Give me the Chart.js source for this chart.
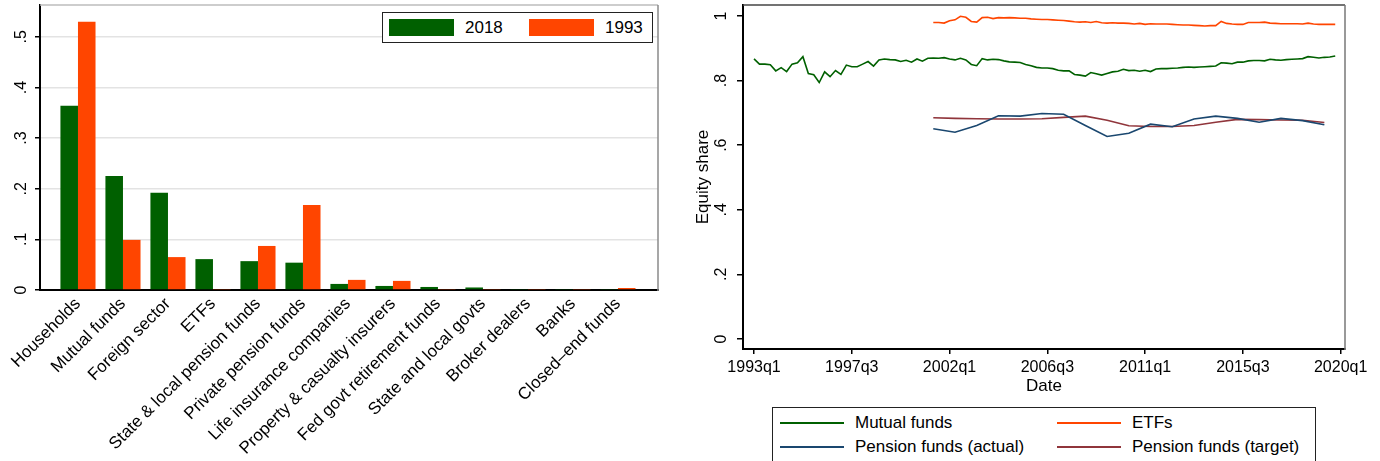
<!DOCTYPE html>
<html>
<head>
<meta charset="utf-8">
<script src="https://cdn.jsdelivr.net/npm/chart.js@4.4.1/dist/chart.umd.min.js"></script>
<style>
  html, body { margin: 0; padding: 0; background: #fff; }
  body { position: relative; width: 1380px; height: 461px; overflow: hidden; font-family: "Liberation Sans", Arial, sans-serif; }
  #left { position: absolute; left: 0; top: 0; }
  #right { position: absolute; left: 680px; top: 0; }
  .legend { position: absolute; border: 1.5px solid #222; background: #fff; box-sizing: border-box; }
  .legend span { position: absolute; font-size: 17px; color: #000; line-height: 20px; white-space: nowrap; }
  .legend i { position: absolute; display: block; }
</style>
</head>
<body>
<canvas id="left" width="680" height="461"></canvas>
<canvas id="right" width="700" height="461"></canvas>
<div class="legend" id="legLeft" style="left:382px;top:12px;width:271px;height:31px"></div>
<div class="legend" id="legRight" style="left:772px;top:407px;width:544px;height:70px"></div>
<script>
'use strict'

// left panel: share of equity held by sector
const sectors = ['Households', 'Mutual funds', 'Foreign sector', 'ETFs', 'State & local pension funds',
    'Private pension funds', 'Life insurance companies', 'Property & casualty insurers',
    'Fed govt retirement funds', 'State and local govts', 'Broker dealers', 'Banks', 'Closed\u2013end funds']
const share2018 = [0.364, 0.225, 0.192, 0.061, 0.057, 0.054, 0.012, 0.008, 0.006, 0.005, 0.002, 0.002, 0.002]
const share1993 = [0.530, 0.099, 0.065, 0.001, 0.087, 0.168, 0.020, 0.018, 0.001, 0.001, 0.001, 0.001, 0.004]
const shareTicks = [0, 0.1, 0.2, 0.3, 0.4, 0.5]
const shareTickLabels = ['0', '.1', '.2', '.3', '.4', '.5']

// right panel: equity share over time (x = quarters since 1993q1)
const dateTicks = [0, 18, 36, 54, 72, 90, 108]
const dateTickLabels = ['1993q1', '1997q3', '2002q1', '2006q3', '2011q1', '2015q3', '2020q1']
const equityTicks = [0, 0.2, 0.4, 0.6, 0.8, 1]
const equityTickLabels = ['0', '.2', '.4', '.6', '.8', '1']

const mutualStart = 0
const mutualFunds = [
    0.867, 0.851, 0.851, 0.849, 0.830, 0.840, 0.828, 0.851, 0.855, 0.874,
    0.822, 0.818, 0.794, 0.827, 0.812, 0.831, 0.819, 0.848, 0.843, 0.843,
    0.851, 0.859, 0.845, 0.864, 0.867, 0.865, 0.864, 0.859, 0.863, 0.857,
    0.867, 0.860, 0.869, 0.870, 0.869, 0.871, 0.867, 0.864, 0.869, 0.864,
    0.850, 0.846, 0.868, 0.864, 0.866, 0.865, 0.861, 0.858, 0.857, 0.856,
    0.850, 0.846, 0.841, 0.839, 0.839, 0.837, 0.832, 0.830, 0.830, 0.819,
    0.817, 0.814, 0.825, 0.821, 0.817, 0.822, 0.827, 0.829, 0.835, 0.831,
    0.832, 0.829, 0.832, 0.828, 0.836, 0.837, 0.837, 0.838, 0.839, 0.841,
    0.842, 0.841, 0.842, 0.843, 0.844, 0.845, 0.855, 0.854, 0.852, 0.857,
    0.857, 0.861, 0.862, 0.862, 0.861, 0.866, 0.864, 0.863, 0.865, 0.866,
    0.867, 0.868, 0.874, 0.872, 0.870, 0.872, 0.873, 0.876
]
const etfStart = 33
const etfs = [
    0.980, 0.980, 0.978, 0.985, 0.988, 0.999, 0.996, 0.983, 0.981, 0.995,
    0.996, 0.992, 0.995, 0.994, 0.995, 0.994, 0.993, 0.993, 0.991, 0.990,
    0.989, 0.989, 0.988, 0.987, 0.986, 0.984, 0.982, 0.981, 0.982, 0.980,
    0.983, 0.979, 0.978, 0.979, 0.978, 0.978, 0.977, 0.975, 0.977, 0.974,
    0.976, 0.975, 0.975, 0.975, 0.974, 0.973, 0.972, 0.972, 0.971, 0.970,
    0.969, 0.970, 0.970, 0.983, 0.977, 0.975, 0.974, 0.974, 0.980, 0.980,
    0.980, 0.981, 0.978, 0.977, 0.976, 0.976, 0.976, 0.976, 0.975, 0.978,
    0.975, 0.974, 0.974, 0.974, 0.974
]
// pension funds are yearly, 2001 to 2019
const pensionStart = 33
const pensionActual = [0.651, 0.640, 0.661, 0.691, 0.690, 0.698, 0.696, 0.661, 0.627, 0.637,
    0.665, 0.657, 0.681, 0.690, 0.683, 0.671, 0.683, 0.676, 0.663]
const pensionTarget = [0.685, 0.683, 0.682, 0.681, 0.681, 0.682, 0.686, 0.690, 0.677, 0.660,
    0.658, 0.658, 0.661, 0.671, 0.680, 0.679, 0.678, 0.677, 0.670]

const GREEN = '#006000'
const ORANGE = '#ff4500'
const NAVY = '#1a476f'
const MAROON = '#90353b'
const FONT = '"Liberation Sans", Arial, sans-serif'

Chart.defaults.font.family = FONT
Chart.defaults.color = '#000'

// light frame on top and right of the plot region
const framePlugin = {
    id: 'frame',
    afterDraw(chart, args, opts) {
        const ctx = chart.ctx
        const a = chart.chartArea
        ctx.save()
        ctx.lineWidth = 1.5
        ctx.strokeStyle = opts.top
        ctx.beginPath(); ctx.moveTo(a.left, a.top); ctx.lineTo(a.right, a.top); ctx.stroke()
        ctx.strokeStyle = opts.right
        ctx.beginPath(); ctx.moveTo(a.right, a.top); ctx.lineTo(a.right, a.bottom + 1); ctx.stroke()
        ctx.restore()
    }
}

// y tick labels turned 90 degrees, like stata does
const sideLabelsPlugin = {
    id: 'sideLabels',
    afterDraw(chart, args, opts) {
        const scale = chart.scales.y
        const ctx = chart.ctx
        ctx.save()
        ctx.font = '16px ' + FONT
        ctx.fillStyle = '#000'
        ctx.textAlign = 'center'
        ctx.textBaseline = 'middle'
        scale.ticks.forEach((t, i) => {
            ctx.save()
            ctx.translate(opts.x, scale.getPixelForValue(t.value))
            ctx.rotate(-Math.PI / 2)
            ctx.fillText(opts.labels[i], 0, 0)
            ctx.restore()
        })
        ctx.restore()
    }
}

function points(values, start, step) {
    return values.map((v, i) => ({ x: start + i * step, y: v }))
}

let leftChart = new Chart(document.querySelector('#left'), {
    type: 'bar',
    data: {
        datasets: [
            { label: '2018', data: points(share2018, 0, 1), backgroundColor: GREEN },
            { label: '1993', data: points(share1993, 0, 1), backgroundColor: ORANGE }
        ]
    },
    options: {
        responsive: false,
        animation: false,
        layout: { padding: { left: 0, top: 5, right: 22, bottom: 0 } },
        datasets: { bar: { categoryPercentage: 0.78, barPercentage: 1.0, borderWidth: 0 } },
        plugins: {
            legend: { display: false },
            tooltip: { enabled: false },
            frame: { top: '#bdbdbd', right: '#8a8a8a' },
            sideLabels: { x: 22, labels: shareTickLabels }
        },
        scales: {
            x: {
                type: 'linear',
                offset: false,
                min: -0.844, max: 12.89,
                afterBuildTicks: s => { s.ticks = sectors.map((c, i) => ({ value: i })) },
                afterFit: s => { s.height = 171 },
                grid: { display: false, drawTicks: false, offset: false },
                border: { display: true, color: '#000', width: 2 },
                ticks: {
                    autoSkip: false, minRotation: 45, maxRotation: 45, padding: 4,
                    font: { size: 17 },
                    callback: v => sectors[v]
                }
            },
            y: {
                min: 0, max: 0.563,
                afterBuildTicks: s => { s.ticks = shareTicks.map(v => ({ value: v })) },
                afterFit: s => { s.width = 40 },
                grid: { color: '#e3e3e3', lineWidth: 1.5, tickColor: '#000', tickLength: 5 },
                border: { display: true, color: '#000', width: 2 },
                ticks: { display: false }
            }
        }
    },
    plugins: [framePlugin, sideLabelsPlugin]
})

let rightChart = new Chart(document.querySelector('#right'), {
    type: 'line',
    data: {
        datasets: [
            { label: 'Mutual funds', data: points(mutualFunds, mutualStart, 1), borderColor: GREEN },
            { label: 'ETFs', data: points(etfs, etfStart, 1), borderColor: ORANGE },
            { label: 'Pension funds (actual)', data: points(pensionActual, pensionStart, 4), borderColor: NAVY },
            { label: 'Pension funds (target)', data: points(pensionTarget, pensionStart, 4), borderColor: MAROON }
        ]
    },
    options: {
        responsive: false,
        animation: false,
        layout: { padding: { left: 0, top: 5, right: 35, bottom: 62 } },
        datasets: { line: { borderWidth: 1.6, pointRadius: 0, tension: 0, fill: false } },
        plugins: {
            legend: { display: false },
            tooltip: { enabled: false },
            frame: { top: '#444', right: '#777' },
            sideLabels: { x: 42, labels: equityTickLabels }
        },
        scales: {
            x: {
                type: 'linear',
                min: -2.03, max: 108.8,
                afterBuildTicks: s => { s.ticks = dateTicks.map(v => ({ value: v })) },
                afterFit: s => { s.height = 50 },
                grid: { drawOnChartArea: false, tickColor: '#000', tickLength: 5, lineWidth: 1.5 },
                border: { display: true, color: '#000', width: 2 },
                ticks: { padding: 4, font: { size: 16 }, callback: (v, i) => dateTickLabels[i] },
                title: { display: true, text: 'Date', font: { size: 17 }, padding: { top: 0, bottom: 2 } }
            },
            y: {
                min: -0.031, max: 1.034,
                afterBuildTicks: s => { s.ticks = equityTicks.map(v => ({ value: v })) },
                afterFit: s => { s.width = 63 },
                grid: { drawOnChartArea: false, tickColor: '#000', tickLength: 6, lineWidth: 1.5 },
                border: { display: true, color: '#000', width: 2 },
                ticks: { display: false },
                title: { display: true, text: 'Equity share', font: { size: 17 }, padding: { top: 13, bottom: 0 } }
            }
        }
    },
    plugins: [framePlugin, sideLabelsPlugin]
})

// html legends, built from the datasets
function legendItem(box, ds, x, y, swatch) {
    let sw = document.createElement('i')
    if (swatch === 'bar') {
        sw.style.cssText = `left:${x}px;top:${y - 8.5}px;width:65px;height:17px;background:${ds.backgroundColor}`
    } else {
        sw.style.cssText = `left:${x}px;top:${y - 1}px;width:64px;height:2px;background:${ds.borderColor}`
    }
    box.appendChild(sw)
    let txt = document.createElement('span')
    txt.textContent = ds.label
    txt.style.left = (x + (swatch === 'bar' ? 76 : 75)) + 'px'
    txt.style.top = (y - 10) + 'px'
    box.appendChild(txt)
}

let legLeft = document.querySelector('#legLeft')
let lds = leftChart.data.datasets
legendItem(legLeft, lds[0], 6, 14.5, 'bar')
legendItem(legLeft, lds[1], 146, 14.5, 'bar')

let legRight = document.querySelector('#legRight')
let rds = rightChart.data.datasets
legendItem(legRight, rds[0], 7, 15, 'line')
legendItem(legRight, rds[1], 284, 15, 'line')
legendItem(legRight, rds[2], 7, 39, 'line')
legendItem(legRight, rds[3], 284, 39, 'line')
</script>
</body>
</html>
